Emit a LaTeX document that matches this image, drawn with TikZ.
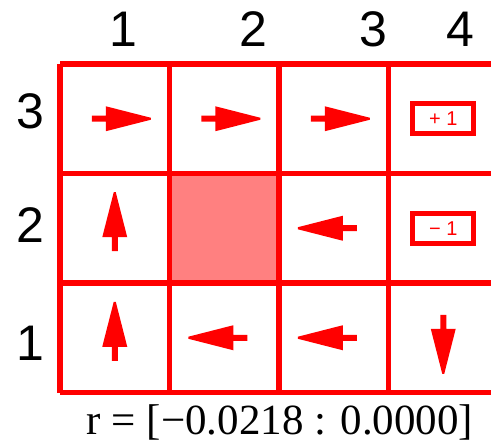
\documentclass[tikz,border=0pt]{standalone}
\usepackage{fontspec}
\setmainfont{Liberation Serif}
\setsansfont{Liberation Sans}
\usepackage{tikz}
\usetikzlibrary{positioning}
\definecolor{gridred}{RGB}{255,0,0}
\definecolor{wallred}{RGB}{255,128,128}
\tikzstyle{cellline} = [gridred, line width=5.5pt]
\tikzstyle{lbl} = [black, font=\sffamily\fontsize{50}{60}\selectfont, inner sep=0pt, anchor=base]
\tikzstyle{rew} = [draw=gridred, line width=5pt, minimum width=61pt, minimum height=30pt, inner sep=0pt, text=gridred, font=\sffamily\fontsize{20}{24}\selectfont]
\tikzstyle{act} = [fill=gridred]
\tikzstyle{wall} = [fill=wallred]
\newcommand{\actarrow}[2]{%
	\fill[act, shift={(#1)}, rotate=#2] (-23,-3) -- (-9,-3) -- (-9,-12.5) -- (36,-1) -- (36,1) -- (-9,12.5) -- (-9,3) -- (-23,3) -- cycle;}

\begin{document}
\begin{tikzpicture}
		[
			x=1pt, y=-1pt,
		]
		\useasboundingbox (0,0) rectangle (491,444);
		\clip (0,0) rectangle (491,444);

		% cell centres
		\foreach \i in {1,...,4}
			\foreach \j in {1,...,3}
				\coordinate (c-\i-\j) at (60+109.5*\i-54.75, 392.5-109.5*\j+54.75);

		% blocked cell
		\fill[wall] (169.5,173.5) rectangle (279,283);

		% grid
		\foreach \i in {0,...,4}
			\draw[cellline] (60+109.5*\i,64) -- (60+109.5*\i,392.5);
		\foreach \j in {0,...,3}
			\draw[cellline] (60,64+109.5*\j) -- (498,64+109.5*\j);

		% column and row numbers
		\node[lbl] (col-1) at (123,47) {1};
		\node[lbl] (col-2) at (253,47) {2};
		\node[lbl] (col-3) at (373,47) {3};
		\node[lbl] (col-4) at (460,47) {4};
		\node[lbl] (row-3) at (30,129) {3};
		\node[lbl] (row-2) at (30,243) {2};
		\node[lbl] (row-1) at (30,360) {1};

		% policy
		\actarrow{c-1-3}{0}
		\actarrow{c-2-3}{0}
		\actarrow{c-3-3}{0}
		\actarrow{c-1-2}{90}
		\actarrow{c-3-2}{180}
		\actarrow{c-1-1}{90}
		\actarrow{c-2-1}{180}
		\actarrow{c-3-1}{180}
		\actarrow{c-4-1}{-90}

		% terminal rewards
		\node[rew] (goal) at (c-4-3) {+ 1};
		\node[rew] (pit) at (c-4-2) {− 1};

		\node[anchor=base, inner sep=0pt, font=\fontsize{43}{50}\selectfont] (range) at (280,434) {r = [−0.0218 : 0.0000]};
	\end{tikzpicture}
\end{document}
